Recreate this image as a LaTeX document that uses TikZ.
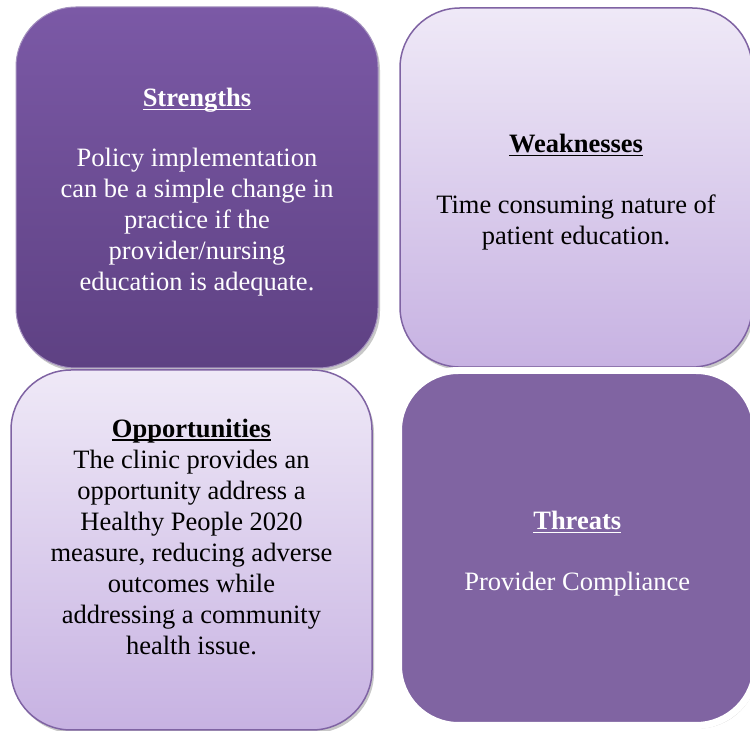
\documentclass[tikz,border=0pt]{standalone}
\usepackage{fontspec}
\setmainfont{Liberation Serif}
\usetikzlibrary{shadows}

\definecolor{plumtop}{HTML}{7B59A6}
\definecolor{plumbot}{HTML}{5E4183}
\definecolor{lilactop}{HTML}{EFE9F7}
\definecolor{lilacbot}{HTML}{C7B2E2}
\definecolor{plumedge}{HTML}{7F63A3}
\definecolor{plumflat}{HTML}{8064A2}

% bold heading with an underline that cuts through the descenders
\newsavebox{\headbox}
\newcommand{\cardhead}[1]{\sbox{\headbox}{\textbf{#1}}%
  \rlap{\rule[-3.5pt]{\wd\headbox}{1.6pt}}\usebox{\headbox}}

\tikzset{
  card/.style={rectangle, rounded corners=60pt, inner sep=0pt,
    drop shadow={shadow xshift=2pt, shadow yshift=-3pt, opacity=0.3, fill=black!70}},
  darkcard/.style={card, top color=plumtop, bottom color=plumbot,
    draw=plumedge!70!white, line width=1pt},
  lightcard/.style={card, top color=lilactop, bottom color=lilacbot,
    draw=plumedge, line width=1.5pt},
  flatcard/.style={card, fill=plumflat, draw=white, line width=7pt},
  cardtext/.style={align=center, font=\fontsize{26.5}{31}\selectfont},
}

\begin{document}
\begin{tikzpicture}[x=1pt,y=1pt]
  \useasboundingbox[fill=white] (0,0) rectangle (750,731);

  % the four quadrants
  \node[darkcard, minimum width=362pt, minimum height=361pt] (str) at (197,543.5) {};
  \node[lightcard, minimum width=352pt, minimum height=359pt] (wk) at (576,543.5) {};
  \node[lightcard, minimum width=361pt, minimum height=360pt] (opp) at (191.5,181) {};
  \node[flatcard, minimum width=357.5pt, minimum height=355pt] (thr) at (577.25,183) {};

  % texts
  \node[cardtext, text=white] (strtxt) at ([yshift=-5pt]str.center)
    {\cardhead{Strengths}\\[29pt]
     Policy implementation\\
     can be a simple change in\\
     practice if the\\
     provider/nursing\\
     education is adequate.};
  \node[cardtext] (wktxt) at ([yshift=-5pt]wk.center)
    {\cardhead{Weaknesses}\\[30pt]
     Time consuming nature of\\
     patient education.};
  \node[cardtext] (opptxt) at ([yshift=13pt]opp.center)
    {\cardhead{Opportunities}\\
     The clinic provides an\\
     opportunity address a\\
     Healthy People 2020\\
     measure, reducing adverse\\
     outcomes while\\
     addressing a community\\
     health issue.};
  \node[cardtext, text=white] (thrtxt) at ([yshift=-6pt]thr.center)
    {\cardhead{Threats}\\[30pt]
     Provider Compliance};
\end{tikzpicture}
\end{document}
